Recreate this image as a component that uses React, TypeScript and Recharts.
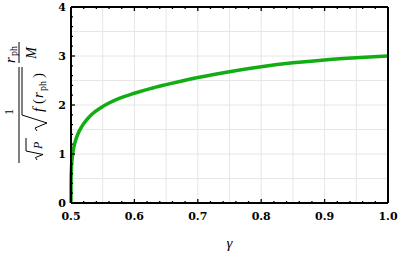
import React from "react";
import { LineChart, Line, XAxis, YAxis, CartesianGrid } from "recharts";

// gamma vs. (1 / (sqrt(P) sqrt(f(r_ph)))) * r_ph / M
const gammaValues = [
  0.5, 0.5001, 0.5005, 0.5027, 0.506, 0.51, 0.517, 0.525, 0.533, 0.549, 0.56,
  0.577, 0.6, 0.625, 0.65, 0.675, 0.7, 0.75, 0.8, 0.85, 0.9, 0.95, 1.0,
];
const ratioValues = [
  0, 0.44, 0.66, 1.0, 1.22, 1.38, 1.56, 1.7, 1.81, 1.96, 2.04, 2.14, 2.24,
  2.335, 2.415, 2.49, 2.56, 2.68, 2.78, 2.86, 2.92, 2.963, 3.0,
];

const xMajorTicks = [0.5, 0.6, 0.7, 0.8, 0.9, 1.0];
const xAllTicks = [
  0.5, 0.52, 0.54, 0.56, 0.58, 0.6, 0.62, 0.64, 0.66, 0.68, 0.7, 0.72, 0.74,
  0.76, 0.78, 0.8, 0.82, 0.84, 0.86, 0.88, 0.9, 0.92, 0.94, 0.96, 0.98, 1.0,
];
const xGridValues = [0.55, 0.6, 0.65, 0.7, 0.75, 0.8, 0.85, 0.9, 0.95];

const yMajorTicks = [0, 1, 2, 3, 4];
const yAllTicks = [
  0, 0.2, 0.4, 0.6, 0.8, 1, 1.2, 1.4, 1.6, 1.8, 2, 2.2, 2.4, 2.6, 2.8, 3, 3.2,
  3.4, 3.6, 3.8, 4,
];
const yGridValues = [0.5, 1, 1.5, 2, 2.5, 3, 3.5];

const data = gammaValues.map((g, i) => ({ g, v: ratioValues[i] }));

const MARGIN = 10; // tickMargin, used to get back to the axis line
const MAJOR = 4;
const MINOR = 2;

const isMajor = (list: number[], v: number) =>
  list.some((m) => Math.abs(m - v) < 1e-6);

const labelFont = {
  fontFamily: "DejaVu Serif",
  fontWeight: "bold" as const,
  fontSize: 11,
  fill: "#000",
};

const BottomTick = (props: any) => {
  const { x, y, payload } = props;
  const axisY = y - MARGIN;
  const major = isMajor(xMajorTicks, payload.value);
  return (
    <g>
      <line
        x1={x}
        x2={x}
        y1={axisY}
        y2={axisY - (major ? MAJOR : MINOR)}
        stroke="#000"
        strokeWidth={1.3}
      />
      {major && (
        <text x={x} y={axisY + 17} textAnchor="middle" {...labelFont}>
          {payload.value.toFixed(1)}
        </text>
      )}
    </g>
  );
};

const TopTick = (props: any) => {
  const { x, y, payload } = props;
  const axisY = y + MARGIN;
  const major = isMajor(xMajorTicks, payload.value);
  return (
    <line
      x1={x}
      x2={x}
      y1={axisY}
      y2={axisY + (major ? MAJOR : MINOR)}
      stroke="#000"
      strokeWidth={1.3}
    />
  );
};

const LeftTick = (props: any) => {
  const { x, y, payload } = props;
  const axisX = x + MARGIN;
  const major = isMajor(yMajorTicks, payload.value);
  return (
    <g>
      <line
        x1={axisX}
        x2={axisX + (major ? MAJOR : MINOR)}
        y1={y}
        y2={y}
        stroke="#000"
        strokeWidth={1.3}
      />
      {major && (
        <text x={axisX - 5} y={y + 4} textAnchor="end" {...labelFont}>
          {payload.value}
        </text>
      )}
    </g>
  );
};

const RightTick = (props: any) => {
  const { x, y, payload } = props;
  const axisX = x - MARGIN;
  const major = isMajor(yMajorTicks, payload.value);
  return (
    <line
      x1={axisX}
      x2={axisX - (major ? MAJOR : MINOR)}
      y1={y}
      y2={y}
      stroke="#000"
      strokeWidth={1.3}
    />
  );
};

const frame = { stroke: "#000", strokeWidth: 2 };

const YLabel = () => (
  <svg
    width={60}
    height={253}
    style={{ position: "absolute", left: 0, top: 0 }}
  >
    <g
      transform="translate(19,163) rotate(-90)"
      fontFamily="Liberation Serif"
      fill="#000"
    >
      {/* big fraction */}
      <line x1={0} x2={96} y1={0} y2={0} stroke="#000" strokeWidth={1} />
      <text x={51} y={-6} textAnchor="middle" fontSize={13}>
        1
      </text>
      <path
        d="M3 18 L5.5 16.5 L8.5 24 L12 7 L25 7"
        fill="none"
        stroke="#000"
        strokeWidth={1}
      />
      <text x={14} y={23} fontSize={12} fontStyle="italic">
        P
      </text>
      <path
        d="M32 18 L35 16 L40 28 L48 3 L96 3"
        fill="none"
        stroke="#000"
        strokeWidth={1}
      />
      <text y={24} fontSize={15}>
        <tspan x={51} fontStyle="italic">
          f
        </tspan>
        <tspan x={59}>(</tspan>
        <tspan x={65} fontStyle="italic">
          r
        </tspan>
        <tspan x={72} fontSize={10} dy={3}>
          ph
        </tspan>
        <tspan x={85} dy={-3}>
          )
        </tspan>
      </text>
      {/* r_ph / M */}
      <line x1={100} x2={121} y1={0} y2={0} stroke="#000" strokeWidth={1} />
      <text y={-4} fontSize={15}>
        <tspan x={100} fontStyle="italic">
          r
        </tspan>
        <tspan x={107} fontSize={10} dy={2}>
          ph
        </tspan>
      </text>
      <text x={110} y={17} fontSize={14} fontStyle="italic" textAnchor="middle">
        M
      </text>
    </g>
  </svg>
);

export default function App() {
  return (
    <div
      style={{
        position: "absolute",
        left: 0,
        top: 0,
        width: 398,
        height: 253,
        background: "#fff",
      }}
    >
      <LineChart
        width={398}
        height={253}
        data={data}
        margin={{ top: 0, right: 0, bottom: 0, left: 0 }}
      >
        <CartesianGrid
          stroke="#e6e6e6"
          strokeWidth={1}
          verticalValues={xGridValues}
          horizontalValues={yGridValues}
        />
        <XAxis
          type="number"
          dataKey="g"
          domain={[0.5, 1]}
          ticks={xAllTicks}
          interval={0}
          height={50}
          axisLine={frame}
          tickLine={false}
          tickSize={0}
          tickMargin={MARGIN}
          tick={BottomTick}
          label={{
            value: "γ",
            position: "insideBottom",
            offset: 5,
            style: {
              fontFamily: "Liberation Serif",
              fontStyle: "italic",
              fontSize: 15,
              fill: "#000",
            },
          }}
        />
        <XAxis
          xAxisId="top"
          orientation="top"
          type="number"
          dataKey="g"
          domain={[0.5, 1]}
          ticks={xAllTicks}
          interval={0}
          height={7}
          axisLine={frame}
          tickLine={false}
          tickSize={0}
          tickMargin={MARGIN}
          tick={TopTick}
        />
        <YAxis
          type="number"
          domain={[0, 4]}
          ticks={yAllTicks}
          interval={0}
          width={71}
          axisLine={frame}
          tickLine={false}
          tickSize={0}
          tickMargin={MARGIN}
          tick={LeftTick}
        />
        <YAxis
          yAxisId="right"
          orientation="right"
          type="number"
          domain={[0, 4]}
          ticks={yAllTicks}
          interval={0}
          width={10}
          axisLine={frame}
          tickLine={false}
          tickSize={0}
          tickMargin={MARGIN}
          tick={RightTick}
        />
        <Line
          type="monotone"
          dataKey="v"
          stroke="#12ad12"
          strokeWidth={3.5}
          dot={false}
          isAnimationActive={false}
        />
      </LineChart>
      <YLabel />
    </div>
  );
}
